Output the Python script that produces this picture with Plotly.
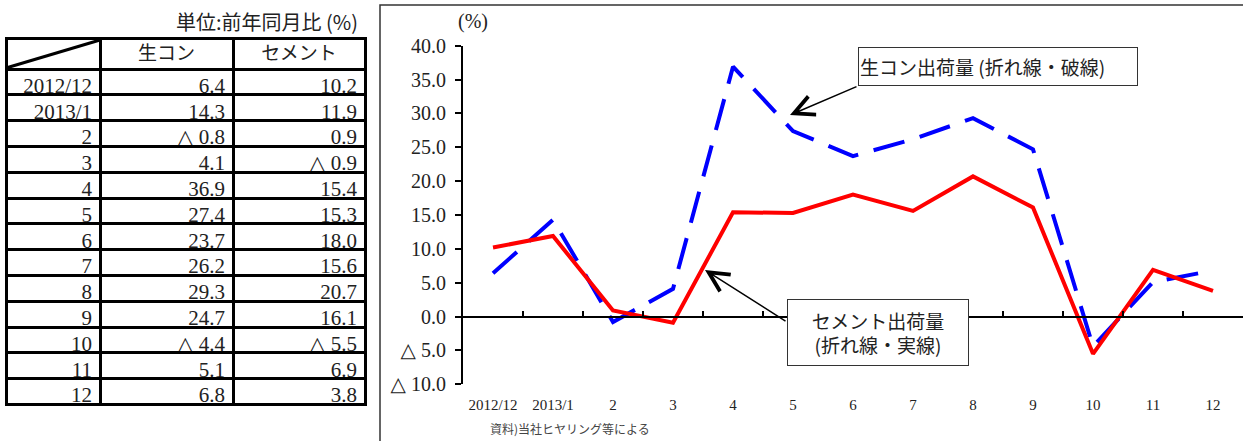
import plotly.graph_objects as go

# ---- data ----
months = ["2012/12", "2013/1", "2", "3", "4", "5", "6", "7", "8", "9", "10", "11", "12"]
namacon = [6.4, 14.3, -0.8, 4.1, 36.9, 27.4, 23.7, 26.2, 29.3, 24.7, -4.4, 5.1, 6.8]
cement = [10.2, 11.9, 0.9, -0.9, 15.4, 15.3, 18.0, 15.6, 20.7, 16.1, -5.5, 6.9, 3.8]
y_ticks = [-10, -5, 0, 5, 10, 15, 20, 25, 30, 35, 40]
table_header = ["", "生コン", "セメント"]


def fmt(v):
    return f"△ {abs(v):.1f}" if v < 0 else f"{v:.1f}"


W, H = 1243, 441


def px(x):
    return x / W


def py(y):
    return 1 - y / H


SERIF = "Liberation Serif, DejaVu Serif, Noto Sans CJK JP"
JP = "Noto Sans CJK JP"
TXT = "#222222"

x_dom = [px(463), 1.0]
y_dom = [py(384.3), py(45.7)]
ymin, ymax = -10, 40
zero_pos = y_dom[0] + (0 - ymin) / (ymax - ymin) * (y_dom[1] - y_dom[0])

fig = go.Figure()

fig.add_trace(go.Table(
    domain=dict(x=[px(6), px(365)], y=[py(406), py(38)]),
    columnwidth=[94, 133, 132],
    header=dict(values=table_header, height=31, align="center",
                line=dict(color="black", width=3), fill_color="white",
                font=dict(family=JP, size=19, color=TXT)),
    cells=dict(values=[months, [fmt(v) for v in namacon], [fmt(v) for v in cement]],
               height=25.8, align="right",
               line=dict(color="black", width=3), fill_color="white",
               font=dict(family=SERIF, size=21, color=TXT)),
))

fig.add_trace(go.Scatter(x=months, y=namacon, mode="lines", name="生コン",
                         line=dict(color="#0000FF", width=4, dash="32px,16px")))
fig.add_trace(go.Scatter(x=months, y=cement, mode="lines", name="セメント",
                         line=dict(color="#FF0000", width=4)))

fig.update_layout(
    width=W, height=H, autosize=False,
    margin=dict(l=0, r=0, t=0, b=0, pad=0, autoexpand=False),
    paper_bgcolor="white", plot_bgcolor="white",
    showlegend=False,
    xaxis=dict(type="category", domain=x_dom, anchor="free", position=zero_pos,
               range=[-0.5, len(months) - 0.5], tickson="boundaries",
               ticks="inside", ticklen=5, tickwidth=2, tickcolor="black",
               showline=True, linecolor="black", linewidth=2, showgrid=False,
               tickangle=0,
               tickfont=dict(family=SERIF, size=15, color=TXT),
               ticklabelstandoff=74, automargin=False),
    yaxis=dict(domain=y_dom, range=[ymin, ymax], anchor="x",
               tickvals=y_ticks, ticktext=[fmt(v) for v in y_ticks],
               ticks="outside", ticklen=6, tickwidth=2, tickcolor="black",
               showline=True, linecolor="black", linewidth=2,
               showgrid=False, zeroline=False,
               tickfont=dict(family=SERIF, size=20, color=TXT),
               ticklabelstandoff=5, automargin=False),
)

fig.add_shape(type="rect", xref="paper", yref="paper",
              x0=px(380), x1=1.01, y0=-0.02, y1=py(5),
              line=dict(color="#333333", width=1.5))
fig.add_shape(type="line", xref="paper", yref="paper",
              x0=px(6), y0=py(68), x1=px(100), y1=py(40),
              line=dict(color="black", width=3))

annos = [
    dict(text="単位:前年同月比 (%)", x=px(360), y=py(22), xanchor="right", yanchor="middle",
         font=dict(family=JP, size=20, color=TXT)),
    dict(text="(%)", x=px(456), y=py(22), xanchor="left", yanchor="middle",
         font=dict(family=SERIF, size=20, color=TXT)),
    dict(text="資料)当社ヒヤリング等による", x=px(488), y=py(428), xanchor="left", yanchor="middle",
         font=dict(family=JP, size=12, color="#444444")),
    dict(text="生コン出荷量 (折れ線・破線)", x=px(858), y=py(47), xanchor="left", yanchor="top",
         width=276, height=35, align="left", bgcolor="white",
         bordercolor="#333333", borderwidth=1, borderpad=1,
         font=dict(family=JP, size=19, color=TXT)),
    dict(text="セメント出荷量<br>(折れ線・実線)", x=px(787), y=py(299), xanchor="left", yanchor="top",
         width=178, height=63, align="center", bgcolor="white",
         bordercolor="#333333", borderwidth=1, borderpad=1,
         font=dict(family=JP, size=19, color=TXT)),
]
for a in annos:
    fig.add_annotation(xref="paper", yref="paper", showarrow=False, **a)

arrows = [((790, 115), (858, 86)), ((705, 270), (787, 322))]
for (hx, hy), (tx, ty) in arrows:
    fig.add_annotation(xref="paper", yref="paper", x=px(hx), y=py(hy),
                       ax=tx - hx, ay=ty - hy, text="", showarrow=True,
                       arrowhead=5, arrowsize=2.6, arrowwidth=1.5, arrowcolor="black",
                       standoff=0, startstandoff=0)

post = (
    "document.documentElement.style.margin='0';"
    "document.documentElement.style.overflow='hidden';"
    "document.body.style.margin='0';"
    "document.body.style.overflow='hidden';"
)
fig.write_html("out.html", config={"displayModeBar": False}, post_script=post)
